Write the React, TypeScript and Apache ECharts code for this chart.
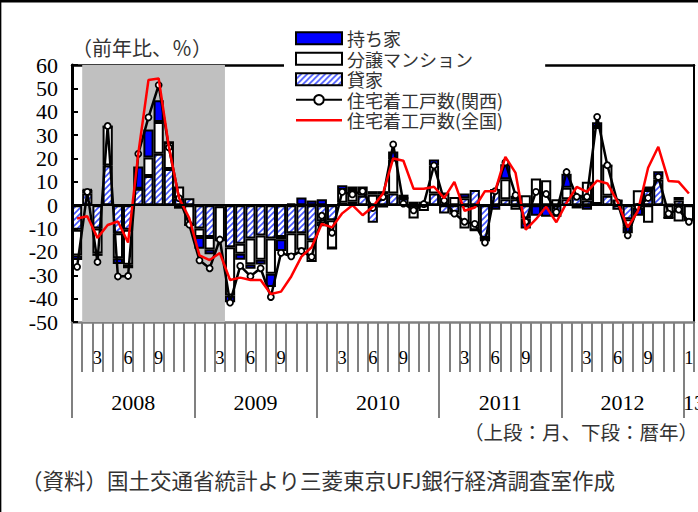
import React, { useEffect, useRef } from 'react';
import * as echarts from 'echarts';

// 61 months: Jan 2008 .. Jan 2013
const months = Array.from({ length: 61 }, (_, i) => String((i % 12) + 1));
const shownMonths = ['3', '6', '9'];
const yearLabels = ['2008', '2009', '2010', '2011', '2012', '13'];

// 貸家 (rental)
const rental = [
  -10.5, 5, -10, 17, -12, -10.5, 7, 12.5, 22, 15.5, 3, 3,
  -10, -13.6, -0.5, -18, -16.5, -14.3, -13, -14.3, -13.6, -12, -12, -15,
  -7, -6.5, 1, 1.5, 4, -7.5, 4.5, 5, 3, 0, 0.5, 5,
  -3.6, -3, 3, 6.5, -14, 6.5, 2.5, 2.5, -5.7, 0, 0, -3.6,
  2.5, 4, 2, 0.5, 4, -2, -6, -1, 6.5, 11, 0.5, 2,
  0,
];
// 分譲マンション (condominiums)
const condo = [
  -11, 1.5, -10.7, 16.7, -10.7, -15, 0, 7.9, 13.6, 11.4, 5, -8.5,
  -3.6, -5.4, -14.5, -20.7, -4.3, -11, -10.4, -15, -1, -9.3, -7.1, -9.3,
  -2, -12, 5.5, 5, 2.5, 4.5, -1, 14.5, 0, -5.7, -2.5, 12,
  5, 3.5, -10, -10.7, 0, 0, 8.6, -2, 4.3, 11.4, 10.7, 2.5,
  5, 0, 8, 33, 13, 2, -3, 6.4, -7.5, 1, -5.5, -7,
  -6.5,
];
// 持ち家 (owner-occupied)
const owner = [
  -2, 0.3, -1, 0, -2.5, -1.5, 9.6, 12, 9.3, 0, -1.5, 0,
  -5, -2, 0, -2.9, -2.6, -1.9, -2, -5.7, -5, 0.7, 3.3, 2,
  2.5, 0, 2, 1.5, 1.5, 1.5, 1.5, 3.5, 1.5, 1.5, 1, 2.5,
  0, -1, 2, 0, -1.5, -2, 6.4, 1.5, -4.3, -4.5, -5, -1.4,
  6, -1.4, -2, 2, 0, 0, -3, -3.5, 1.5, 2.5, 0, 1.5,
  0,
];
// 住宅着工戸数(関西)
const kansai = [
  -26.4, 5.7, -24.3, 33.9, -30.5, -30.3, 22, 37.6, 51.4, 24.7, 3, -8.3,
  -23.6, -27, -14.7, -41.7, -26, -30.4, -27, -39.3, -20.4, -21.9, -19.6, -22.1,
  -4.5, -11.8, 5.7, 4.6, 6, -1.2, 3.5, 26, 0.7, -2.2, 0.5, 17,
  2, -3.6, -7.1, -8, -16, 6, 18.3, 4.3, -7.1, 5.7, 4.8, -3,
  14.2, 3.6, 3.6, 37.8, 17.1, 1.2, -12.9, -0.8, 3.1, 12.1, -3.6, -1.9,
  -7.1,
];
// 住宅着工戸数(全国)
const national = [
  -5.7, -4.7, -14, -8.5, -7, -16, 22, 53.6, 54.2, 25, 3, -5.5,
  -21.5, -23.5, -20.5, -32, -31, -32, -32, -38, -37, -30.5, -22, -18,
  -8, -9.5, -3.5, 0, -4.3, -0.7, 5, 20, 19, 7, 7, 7.9,
  3, 10, -2.4, -1, 6, 6, 20.7, 13.8, -10.5, -6, -0.7, -7.3,
  1, 7.8, 5.7, 10.5, 9.3, 1.5, -9.5, -2.5, 16, 25, 10.4, 10,
  5,
];
// recession shading: from start of Feb 2008 to end of Mar 2009 (boundary indices)
const shadeFrom = 1;
const shadeTo = 15;

const JP = 'Noto Sans CJK JP';
const SERIF = 'Liberation Serif';
const GRAY = '#808080';

function hatchPattern(): string {
  const s = 6;
  const c = document.createElement('canvas');
  c.width = s;
  c.height = s;
  const g = c.getContext('2d')!;
  g.fillStyle = '#ffffff';
  g.fillRect(0, 0, s, s);
  g.strokeStyle = '#4455ff';
  g.lineWidth = 1.6;
  g.beginPath();
  g.moveTo(-1, s + 1);
  g.lineTo(s + 1, -1);
  g.moveTo(-1, 1);
  g.lineTo(1, -1);
  g.moveTo(s - 1, s + 1);
  g.lineTo(s + 1, s - 1);
  g.stroke();
  return c.toDataURL();
}

export default function App() {
  const ref = useRef<HTMLDivElement>(null);

  useEffect(() => {
    if (!ref.current) return;
    const chart = echarts.init(ref.current, undefined, { renderer: 'svg' });
    const hatch = { image: hatchPattern(), repeat: 'repeat', imageWidth: 6, imageHeight: 6 };
    const boundaries = Array.from({ length: months.length + 1 }, (_, i) => String(i));

    const barBase = {
      type: 'bar',
      stack: 'total',
      barCategoryGap: '0%',
      xAxisIndex: 0,
      yAxisIndex: 0,
    };

    const option: any = {
      animation: false,
      backgroundColor: '#ffffff',
      textStyle: { fontFamily: SERIF },
      title: [
        {
          text: '（上段：月、下段：暦年）',
          right: 0,
          top: 422,
          padding: 0,
          textStyle: { fontFamily: JP, fontSize: 19.5, fontWeight: 'normal', color: '#333' },
        },
        {
          text: '（資料）国土交通省統計より三菱東京UFJ銀行経済調査室作成',
          left: 21,
          top: 469,
          padding: 0,
          textStyle: { fontFamily: JP, fontSize: 21.5, fontWeight: 'normal', color: '#333' },
        },
      ],
      legend: {
        orient: 'vertical',
        left: 284,
        top: 24,
        padding: [4, 42, 4, 11],
        backgroundColor: '#ffffff',
        itemWidth: 46,
        itemHeight: 12,
        itemGap: 0,
        textStyle: { fontFamily: JP, fontSize: 18, color: '#333', lineHeight: 20.5 },
        data: [
          { name: '持ち家', icon: 'rect' },
          { name: '分譲マンション', icon: 'rect' },
          { name: '貸家', icon: 'rect' },
          { name: '住宅着工戸数(関西)' },
          { name: '住宅着工戸数(全国)', icon: 'path://M0 0H46V2.6H0Z' },
        ],
      },
      grid: { left: 72, right: 4, top: 65, bottom: 190, outerBoundsMode: 'none', containLabel: false },
      xAxis: [
        {
          type: 'category',
          position: 'bottom',
          data: months,
          boundaryGap: true,
          axisLine: { onZero: false, lineStyle: { color: GRAY, width: 2.5 } },
          axisTick: { show: true, interval: 0, length: 50, lineStyle: { color: GRAY, width: 2 } },
          axisLabel: {
            interval: 0,
            margin: 26,
            fontFamily: SERIF,
            fontSize: 18.5,
            color: '#000',
            formatter: (v: string, i: number) =>
              shownMonths.includes(v) || i === months.length - 1 ? v : '',
          },
          splitLine: { show: false },
        },
        {
          type: 'category',
          position: 'bottom',
          data: boundaries,
          boundaryGap: false,
          axisLine: { show: false, onZero: false },
          axisTick: {
            show: true,
            interval: (i: number) => i % 12 === 0,
            length: 96,
            lineStyle: { color: GRAY, width: 2 },
          },
          axisLabel: {
            interval: 0,
            margin: 69,
            fontFamily: SERIF,
            fontSize: 22,
            color: '#000',
            formatter: (_v: string, i: number) =>
              i % 12 === 6 ? yearLabels[(i - 6) / 12] : i === months.length ? yearLabels[yearLabels.length - 1] : '',
          },
          splitLine: { show: false },
        },
        {
          type: 'category',
          position: 'top',
          data: months,
          axisLine: { show: true, onZero: false, lineStyle: { color: '#000', width: 2.5 } },
          axisTick: { show: false },
          axisLabel: { show: false },
          splitLine: { show: false },
        },
      ],
      yAxis: [
        {
          type: 'value',
          min: -50,
          max: 60,
          interval: 10,
          name: '（前年比、％）',
          nameLocation: 'end',
          nameGap: 8,
          nameTextStyle: { fontFamily: JP, fontSize: 20, color: '#333', align: 'left', padding: [0, 0, 0, 0] },
          axisLine: { show: true, lineStyle: { color: '#000', width: 3 } },
          axisTick: { show: true, inside: true, length: 6, lineStyle: { color: '#000', width: 2 } },
          axisLabel: { fontFamily: SERIF, fontSize: 22, color: '#000', margin: 14 },
          splitLine: { show: false },
        },
        {
          type: 'value',
          position: 'right',
          min: -50,
          max: 60,
          interval: 10,
          axisLine: { show: true, lineStyle: { color: '#000', width: 2 } },
          axisTick: { show: false },
          axisLabel: { show: false },
          splitLine: { show: false },
        },
      ],
      series: [
        {
          name: 'shade',
          type: 'line',
          xAxisIndex: 1,
          yAxisIndex: 0,
          data: [],
          z: 0,
          silent: true,
          markArea: {
            silent: true,
            itemStyle: { color: '#c0c0c0' },
            data: [[{ xAxis: shadeFrom }, { xAxis: shadeTo }]],
          },
        },
        {
          ...barBase,
          name: '貸家',
          data: rental,
          itemStyle: { color: hatch, borderColor: '#000', borderWidth: 2 },
        },
        {
          ...barBase,
          name: '分譲マンション',
          data: condo,
          itemStyle: { color: '#ffffff', borderColor: '#000', borderWidth: 2 },
        },
        {
          ...barBase,
          name: '持ち家',
          data: owner,
          itemStyle: { color: '#0000ff', borderColor: '#000', borderWidth: 2 },
          markLine: {
            silent: true,
            symbol: ['none', 'none'],
            label: { show: false },
            lineStyle: { color: '#000', width: 2, type: 'solid' },
            data: [{ yAxis: 0 }],
          },
        },
        {
          name: '住宅着工戸数(関西)',
          type: 'line',
          xAxisIndex: 0,
          yAxisIndex: 0,
          data: kansai,
          symbol: 'circle',
          symbolSize: 6,
          showAllSymbol: true,
          lineStyle: { color: '#000', width: 2.5 },
          itemStyle: { color: '#ffffff', borderColor: '#000', borderWidth: 1.8 },
          z: 3,
        },
        {
          name: '住宅着工戸数(全国)',
          type: 'line',
          xAxisIndex: 0,
          yAxisIndex: 0,
          data: national,
          symbol: 'none',
          lineStyle: { color: '#ff0000', width: 2.5 },
          itemStyle: { color: '#ff0000' },
          z: 4,
        },
      ],
      graphic: [
        { type: 'line', z: 100, shape: { x1: 0, y1: 1.2, x2: 698, y2: 1.2 }, style: { stroke: '#000', lineWidth: 2.5 } },
        { type: 'line', z: 100, shape: { x1: 0.6, y1: 0, x2: 0.6, y2: 512 }, style: { stroke: '#000', lineWidth: 1.5 } },
      ],
    };

    chart.setOption(option);
    return () => chart.dispose();
  }, []);

  return (
    <div
      ref={ref}
      style={{ position: 'absolute', left: 0, top: 0, width: 698, height: 512, background: '#fff' }}
    />
  );
}
